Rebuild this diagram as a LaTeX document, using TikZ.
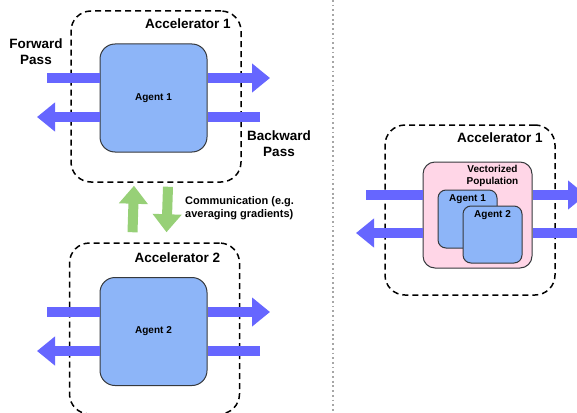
\documentclass[tikz,border=0pt]{standalone}
\usepackage{fontspec}
\setmainfont{Liberation Sans}
\usetikzlibrary{arrows.meta}
\definecolor{passblue}{RGB}{102,102,255}
\definecolor{commgreen}{RGB}{151,208,119}
\definecolor{agentblue}{RGB}{141,181,248}
\definecolor{popink}{RGB}{255,214,231}
\definecolor{edgegray}{RGB}{54,57,61}
\tikzstyle{accel}=[rectangle, rounded corners=20pt, draw=black, line width=1.5pt, dash pattern=on 6pt off 4pt, inner sep=0pt, minimum width=170pt, minimum height=171pt]
\tikzstyle{agent}=[rectangle, rounded corners=15pt, fill=agentblue, draw=edgegray, line width=1pt, minimum width=107pt, minimum height=108pt, inner sep=0pt, font=\fontsize{10}{12}\selectfont\bfseries]
\tikzstyle{subagent}=[agent, rounded corners=8pt, minimum width=59pt, minimum height=58pt]
\tikzstyle{pop}=[rectangle, rounded corners=12pt, fill=popink, draw=edgegray, line width=1pt, minimum width=109pt, minimum height=106pt, inner sep=0pt]
\tikzstyle{annot}=[align=center, inner sep=0pt]
\tikzstyle{passline}=[line width=10pt, draw=passblue]
\tikzstyle{pass}=[passline, -{Triangle[length=18pt,width=28pt]}]
\tikzstyle{comm}=[line width=10pt, draw=commgreen, -{Triangle[length=18pt,width=28pt]}]
\tikzstyle{divider}=[draw=black!35, line width=1.8pt, dash pattern=on 1.8pt off 2.9pt]
\newcommand{\bigfont}{\fontsize{13.5}{16}\selectfont\bfseries}
\newcommand{\smallfont}{\fontsize{10}{12}\selectfont\bfseries}
% forward and backward pass through a box: #1 box, #2/#3 rows, #4-#7 x ends
\newcommand{\drawpasses}[7]
{
  \coordinate (#1fwdin) at (#4,#2);
  \coordinate (#1fwdout) at (#5,#2);
  \coordinate (#1bwdin) at (#6,#3);
  \coordinate (#1bwdout) at (#7,#3);
  \draw[passline] (#1fwdin) -- (#1fwdin -| #1.west);
  \draw[pass] (#1fwdout -| #1.east) -- (#1fwdout);
  \draw[passline] (#1bwdin) -- (#1bwdin -| #1.east);
  \draw[pass] (#1bwdout -| #1.west) -- (#1bwdout);
}

\begin{document}
\begin{tikzpicture}[x=1pt,y=-1pt]
	\useasboundingbox (0,0) rectangle (577,412);

	\draw[divider] (333,0) -- (333,412);

	% data parallel: one agent per accelerator
	\node[accel](acc1) at (156,96.5){};
	\node[annot, anchor=north east, font=\bigfont](acc1label) at ([xshift=-11pt,yshift=-8pt]acc1.north east) {Accelerator 1};
	\node[agent](agent1) at (153.5,98){Agent 1};
	\drawpasses{agent1}{78}{117}{47}{270}{260}{37}

	\node[accel](acc2) at (154.5,328.5){};
	\node[annot, anchor=north east, font=\bigfont](acc2label) at ([xshift=-20pt,yshift=-10pt]acc2.north east) {Accelerator 2};
	\node[agent](agent2) at (153.5,331.5){Agent 2};
	\drawpasses{agent2}{312}{351}{47}{270}{260}{37}

	\node[annot, font=\bigfont](fwdlabel) at (36,52) {Forward\\Pass};
	\node[annot, font=\bigfont](bwdlabel) at (279,144) {Backward\\Pass};

	\draw[comm] ([xshift=-22pt,yshift=10pt]acc2.north) -- ([xshift=-22pt,yshift=-3pt]acc1.south);
	\draw[comm] ([xshift=12pt,yshift=-4pt]acc1.south) -- ([xshift=12pt,yshift=10pt]acc2.north);
	\node[annot, align=left, anchor=west, font=\fontsize{11}{12.5}\selectfont\bfseries](commlabel) at (185,208) {Communication (e.g.\\averaging gradients)};

	% vectorized: whole population on one accelerator
	\node[accel, minimum height=170pt](acc3) at (470,210){};
	\node[annot, anchor=north east, font=\bigfont](acc3label) at ([xshift=-13pt,yshift=-8pt]acc3.north east) {Accelerator 1};
	\node[pop](pop) at (477.5,215){};
	\node[annot, anchor=north east, font=\smallfont](poplabel) at ([xshift=-14pt,yshift=-4pt]pop.north east) {Vectorized\\Population};
	\node[subagent](vagent1) at (467.5,219){};
	\node[annot, anchor=north, font=\smallfont](vagent1label) at ([yshift=-5pt]vagent1.north) {Agent 1};
	\node[subagent, minimum height=57pt](vagent2) at (492.5,234.5){};
	\node[annot, anchor=north, font=\smallfont](vagent2label) at ([yshift=-5pt]vagent2.north) {Agent 2};
	\drawpasses{pop}{195}{233}{366}{586}{600}{356}

\end{tikzpicture}
\end{document}
